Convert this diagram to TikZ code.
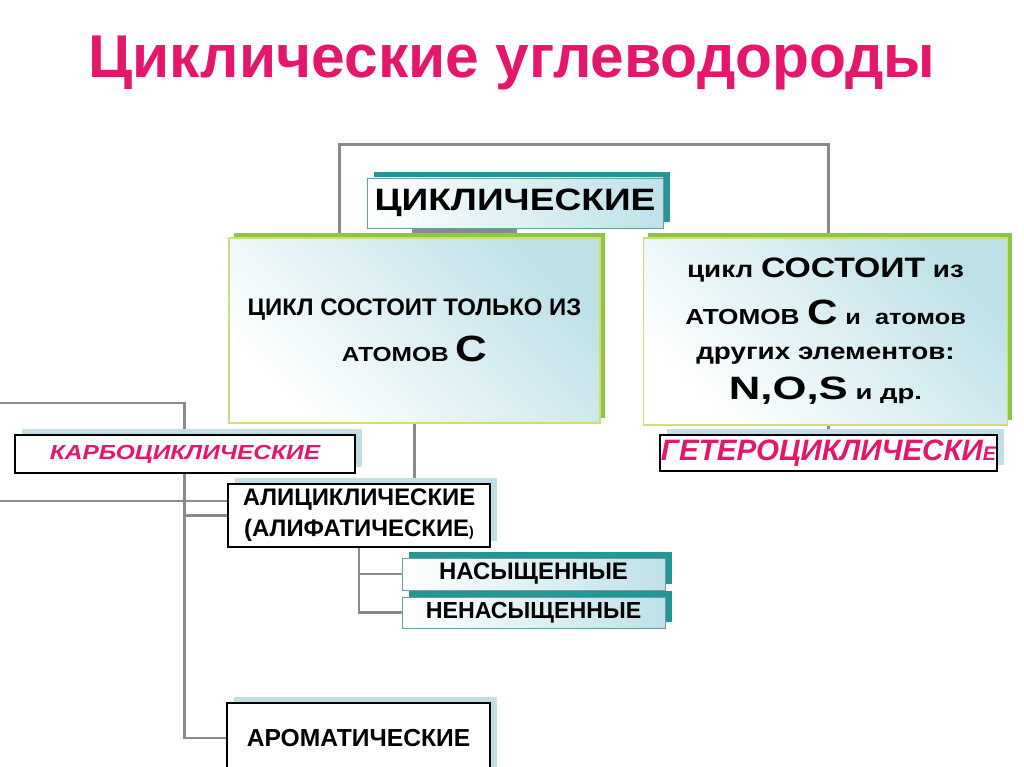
\documentclass[tikz,border=0pt]{standalone}
\usepackage{fontspec}
\setmainfont{Liberation Sans}
\newfontfamily\widefont[FakeStretch=1.2]{Liberation Sans}
\newfontfamily\widerfont[FakeStretch=1.35]{Liberation Sans}
\usetikzlibrary{shadows, calc, backgrounds}
\definecolor{titlepink}{RGB}{228,23,106}
\definecolor{linegray}{RGB}{138,138,138}
\definecolor{tealshd}{RGB}{38,150,148}
\definecolor{greenshd}{RGB}{141,198,63}
\definecolor{greenborder}{RGB}{205,222,120}
\definecolor{headborder}{RGB}{110,155,165}
\definecolor{paleblue}{RGB}{190,225,232}
\definecolor{lightshd}{RGB}{192,222,228}
\tikzset{
    conn/.style = {draw=linegray, line width=2.1pt},
    headbox/.style = {rectangle, draw=headborder, line width=0.6pt, left color=white, right color=paleblue, general shadow={fill=tealshd, shadow xshift=5pt, shadow yshift=4pt}, inner sep=0pt, text centered},
    bigbox/.style = {rectangle, draw=greenborder, line width=1pt, left color=white, right color=paleblue, shading angle=135, general shadow={fill=greenshd, shadow xshift=3.5pt, shadow yshift=3.5pt}, inner sep=0pt, align=center},
    classbox/.style = {rectangle, draw=black, line width=1pt, fill=white, general shadow={fill=lightshd, shadow xshift=5pt, shadow yshift=4pt}, inner sep=0pt, align=center},
    pinktext/.style = {text=titlepink}
}
\begin{document}
\begin{tikzpicture}[x=0.025cm, y=-0.025cm]
\useasboundingbox (0,0) rectangle (1024,767);

\node (title) [text=titlepink, font=\bfseries\fontsize{43}{50}\selectfont] at (512,63) {Циклические углеводороды};

\node (cyc) [headbox, minimum width=7.4cm, minimum height=1.25cm, font=\widefont\bfseries\fontsize{22}{28}\selectfont] at (515,203) {ЦИКЛИЧЕСКИЕ};
\node (carbonly) [bigbox, minimum width=9.275cm, minimum height=4.625cm, font=\bfseries\fontsize{17}{33}\selectfont] at (414.5,330.5)
    {ЦИКЛ СОСТОИТ ТОЛЬКО ИЗ\\{\widefont\fontsize{14.5}{17}\selectfont АТОМОВ} {\widefont\fontsize{26}{30}\selectfont С}};
\node (hetonly) [bigbox, minimum width=9.1cm, minimum height=4.675cm, font=\widefont\bfseries\fontsize{16.5}{25}\selectfont] at (825.5,331.5)
    {цикл {\fontsize{20}{24}\selectfont СОСТОИТ} из\\[8pt]
     {\fontsize{15.5}{18}\selectfont АТОМОВ} {\fontsize{25}{28}\selectfont С} {\fontsize{15}{18}\selectfont и\ \ атомов}\\
     других элементов:\\[3.5pt]
     {\widerfont\fontsize{23}{26}\selectfont N,O,S} {\widerfont\fontsize{14.5}{17}\selectfont и др.}};

\node (karbo) [classbox, pinktext, minimum width=8.5cm, minimum height=0.95cm, font=\widefont\bfseries\itshape\fontsize{14.5}{18}\selectfont] at (185,454) {КАРБОЦИКЛИЧЕСКИЕ};
\node (hetero) [classbox, pinktext, minimum width=8.425cm, minimum height=0.9cm, font=\bfseries\itshape\fontsize{21}{25}\selectfont] at (828.5,453) {ГЕТЕРОЦИКЛИЧЕСКИ{\fontsize{14}{17}\selectfont Е}};
\node (alic) [classbox, minimum width=6.55cm, minimum height=1.575cm, font=\bfseries\fontsize{17}{22}\selectfont] at (359,515.5) {АЛИЦИКЛИЧЕСКИЕ\\(АЛИФАТИЧЕСКИЕ{\fontsize{10}{12}\selectfont )}};
\node (sat) [headbox, minimum width=6.575cm, minimum height=0.8cm, font=\bfseries\fontsize{17}{19}\selectfont] at (533.5,574) {НАСЫЩЕННЫЕ};
\node (unsat) [headbox, minimum width=6.575cm, minimum height=0.775cm, font=\bfseries\fontsize{16.5}{19}\selectfont] at (533.5,612.5) {НЕНАСЫЩЕННЫЕ};
\node (arom) [classbox, minimum width=6.575cm, minimum height=1.75cm, font=\bfseries\fontsize{17.5}{20}\selectfont] at (358.5,738) {АРОМАТИЧЕСКИЕ};

\coordinate (lefta) at (0,403);
\coordinate (leftb) at (0,501);
\coordinate (bend) at ($(arom.west)+(-42,0)$);

\begin{scope}[on background layer]
\fill[white] (0,0) rectangle (1024,767);
\fill[linegray] ($(cyc.south west)+(45,0)$) rectangle ($(cyc.south west)+(150,9)$);
\draw[conn] ($(carbonly.north west)+(111,0)$) |- ($(cyc.north)+(0,-33)$) -| (hetonly.north -| hetero.north);
\draw[conn] (hetonly.north -| hetero.north) -- (hetero.north);
\draw[conn] (carbonly.south) -- (carbonly.south |- alic.north);
\draw[conn] (lefta) -| (bend) -- (arom.west);
\draw[conn] (leftb) -- (leftb -| alic.west);
\draw[conn] (alic.west -| bend) -- (alic.west);
\draw[conn] (alic.south) |- (sat.west);
\draw[conn] (alic.south) |- (unsat.west);
\end{scope}
\end{tikzpicture}
\end{document}
